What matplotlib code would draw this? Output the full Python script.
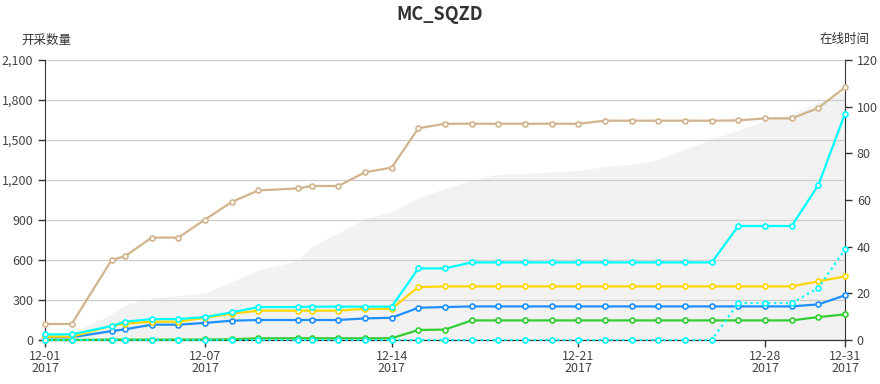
import matplotlib
matplotlib.use("Agg")
import matplotlib.pyplot as plt
import matplotlib.dates as mdates
from matplotlib.ticker import FuncFormatter, FixedLocator
import pandas as pd

plt.rcParams['font.family'] = ['Noto Sans CJK SC', 'DejaVu Sans']

times = ['2017-12-01 00:00', '2017-12-02 00:00', '2017-12-03 12:00', '2017-12-04 00:00', '2017-12-05 00:00',
         '2017-12-06 00:00', '2017-12-07 00:00', '2017-12-08 00:00', '2017-12-09 00:00', '2017-12-10 12:00',
         '2017-12-11 00:00', '2017-12-12 00:00', '2017-12-13 00:00', '2017-12-14 00:00', '2017-12-15 00:00',
         '2017-12-16 00:00', '2017-12-17 00:00', '2017-12-18 00:00', '2017-12-19 00:00', '2017-12-20 00:00',
         '2017-12-21 00:00', '2017-12-22 00:00', '2017-12-23 00:00', '2017-12-24 00:00', '2017-12-25 00:00',
         '2017-12-26 00:00', '2017-12-27 00:00', '2017-12-28 00:00', '2017-12-29 00:00', '2017-12-30 00:00',
         '2017-12-31 00:00']

tan_series = [120, 120, 600, 628, 768, 768, 903, 1035, 1122, 1137, 1155, 1155, 1258, 1293,
              1588, 1622, 1622, 1622, 1622, 1622, 1622, 1645, 1645, 1645, 1645, 1645,
              1647, 1662, 1662, 1740, 1895]
cyan_series = [42, 42, 105, 137, 157, 157, 172, 207, 247, 247, 250, 250, 250, 250,
               537, 537, 582, 582, 582, 582, 582, 582, 582, 582, 582, 582,
               855, 855, 855, 1162, 1697]
yellow_series = [25, 25, 107, 122, 137, 137, 167, 197, 220, 220, 220, 220, 234, 234,
                 397, 402, 402, 402, 402, 402, 402, 402, 402, 402, 402, 402,
                 402, 402, 402, 440, 477]
blue_series = [20, 20, 67, 80, 115, 115, 128, 145, 150, 150, 150, 150, 162, 167,
               242, 247, 252, 252, 252, 252, 252, 252, 252, 252, 252, 252,
               252, 252, 252, 267, 335]
green_series = [0, 0, 3, 3, 3, 3, 4, 5, 13, 13, 13, 13, 13, 13,
                75, 78, 147, 147, 147, 147, 147, 147, 147, 147, 147, 147,
                147, 147, 147, 172, 192]
cyan_dotted_series = [0, 0, 0, 0, 0, 0, 0, 0, 0, 0, 0, 0, 0, 0,
                      0, 0, 0, 0, 0, 0, 0, 0, 0, 0, 0, 0,
                      277, 277, 277, 390, 680]
online_time = [2, 3, 11, 15, 18, 19, 20, 25, 30, 34, 40, 46, 52, 55, 61, 65,
               68.5, 71, 71.3, 72, 72.6, 74.3, 75.3, 77.3, 82, 86, 90, 94, 97, 102, 106.4]

xtick_dates = ['2017-12-01', '2017-12-07', '2017-12-14', '2017-12-21', '2017-12-28', '2017-12-31']
left_ticks = [0, 300, 600, 900, 1200, 1500, 1800, 2100]
right_ticks = [0, 20, 40, 60, 80, 100, 120]

t = pd.to_datetime(times, format='%Y-%m-%d %H:%M')
xt = pd.to_datetime(xtick_dates, format='%Y-%m-%d')

fig = plt.figure(figsize=(8.8, 3.84), dpi=100)
ax2 = fig.add_axes([45/880, 44/384, 800/880, 280/384])
ax = ax2.twinx()
ax.set_zorder(2)
ax2.set_zorder(1)
ax.patch.set_visible(False)

ax2.fill_between(t, 0, online_time, color='#f2f2f2', lw=0, zorder=1)
ax2.set_ylim(0, 120)
ax2.yaxis.tick_right()
ax2.yaxis.set_label_position('right')

ax.yaxis.tick_left()
ax.yaxis.set_label_position('left')

ax.set_ylim(0, 2100)
ax2.set_xlim(t[0], t[-1])
ax.yaxis.set_major_locator(FixedLocator(left_ticks))
ax.yaxis.set_major_formatter(FuncFormatter(lambda v, p: f'{int(v):,}'))
ax.grid(axis='y', color='#cccccc', lw=0.9, zorder=0)
ax.set_axisbelow(True)

ax2.yaxis.set_major_locator(FixedLocator(right_ticks))

lines = [
    (tan_series, '#D2B48C', '-'),
    (green_series, '#32CD32', '-'),
    (blue_series, '#1E90FF', '-'),
    (yellow_series, '#FFD700', '-'),
    (cyan_series, '#00FFFF', '-'),
    (cyan_dotted_series, '#00FFFF', ':'),
]
for vals, col, ls in lines:
    ax.plot(t, vals, color=col, ls=ls, lw=1.6, marker='o', ms=3.6, mfc='white',
            mec=col, mew=1.2, zorder=3, clip_on=False)

ax2.set_xticks(xt)
ax2.xaxis.set_major_formatter(mdates.DateFormatter('%m-%d\n%Y'))
for a in (ax, ax2):
    a.spines['top'].set_visible(False)
    a.spines['left'].set_color('#333333')
    a.spines['right'].set_color('#333333')
    a.spines['bottom'].set_color('#333333')
    a.tick_params(colors='#333333', labelcolor='#444444', labelsize=9, length=5, width=1)

ax2.tick_params(axis='x', labelsize=9, pad=2)
for lab in ax2.get_xticklabels():
    lab.set_linespacing(0.95)
ax.spines['right'].set_visible(False)
ax2.spines['left'].set_visible(False)

fig.text(0.5, 1 - 15/384, 'MC_SQZD', ha='center', va='center', fontsize=13,
         fontweight='bold', color='#333333')
fig.text(46/880, 1 - 40/384, '开采数量', ha='center', va='center', fontsize=9, color='#333333')
fig.text(845/880, 1 - 40/384, '在线时间', ha='center', va='center', fontsize=9, color='#333333')

fig.savefig('out.png', dpi=100)
